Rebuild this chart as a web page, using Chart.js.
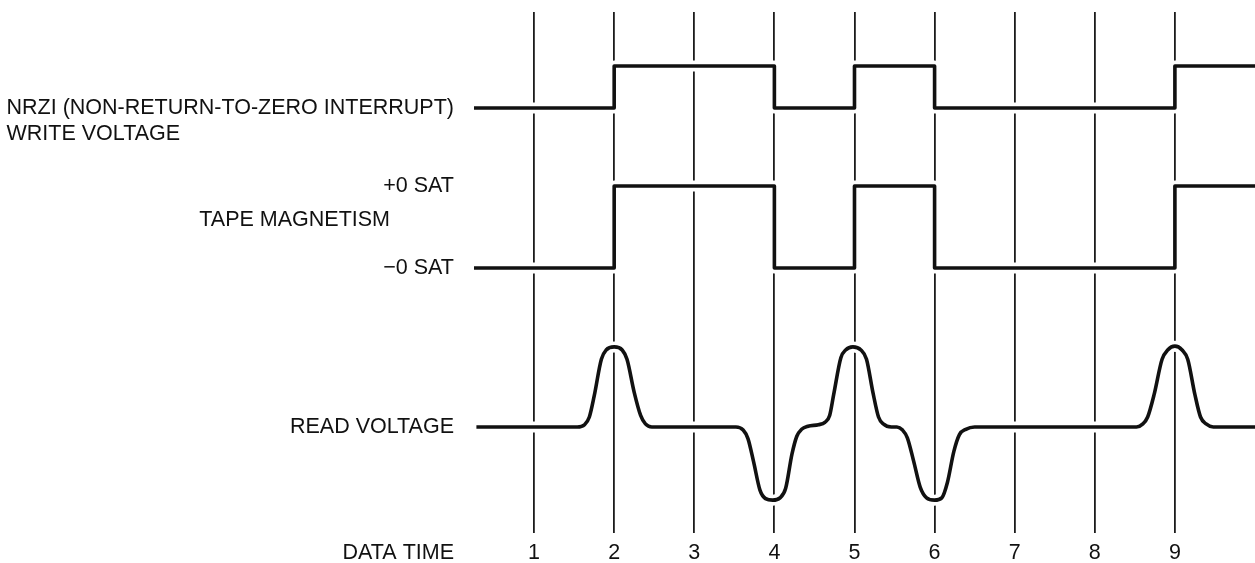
<!DOCTYPE html>
<html>
<head>
<meta charset="utf-8">
<title>NRZI Recording Waveforms</title>
<script src="https://cdn.jsdelivr.net/npm/chart.js@4.4.1/dist/chart.umd.min.js"></script>
<style>
  html, body { margin: 0; padding: 0; background: #fff; }
  #chartBox { width: 1255px; height: 563px; }
</style>
</head>
<body>
<div id="chartBox"><canvas id="nrziChart"></canvas></div>
<script>
// ================= Data =================
const dataTimes   = [1, 2, 3, 4, 5, 6, 7, 8, 9];
const writeLevels = [0, 1, 1, 0, 1, 0, 0, 0, 1];       // NRZI write voltage after each data time
const tapeFlux    = [-1, 1, 1, -1, 1, -1, -1, -1, 1];  // -0 SAT / +0 SAT
const timeRange   = [0.25, 10];

// read head voltage, sampled along the time axis
const readTimes = [
  0.28,
  1.54, 1.63, 1.69, 1.75, 1.84, 1.90, 2.00, 2.10, 2.16, 2.25, 2.33, 2.39, 2.47,
  3.52, 3.61, 3.67, 3.74, 3.82, 3.89, 3.98, 4.07, 4.14, 4.22, 4.28, 4.34, 4.42,
  4.55, 4.63, 4.69, 4.74, 4.83, 4.89, 4.98, 5.08, 5.15, 5.23, 5.30, 5.36, 5.46,
  5.53, 5.60, 5.66, 5.74, 5.82, 5.90, 6.00, 6.09, 6.16, 6.24, 6.31, 6.39, 6.50,
  8.52, 8.60, 8.66, 8.74, 8.84, 8.91, 9.00, 9.09, 9.16, 9.25, 9.32, 9.39, 9.48,
  10.0
];
const readVolts = [
  0,
  0, 0.03, 0.13, 0.40, 0.88, 1.00, 1.04, 1.00, 0.88, 0.45, 0.15, 0.04, 0,
  0, -0.04, -0.15, -0.45, -0.82, -0.93, -0.95, -0.92, -0.80, -0.35, -0.12, -0.03, 0.01,
  0.03, 0.06, 0.15, 0.42, 0.90, 1.00, 1.04, 1.00, 0.88, 0.45, 0.13, 0.04, 0,
  0, -0.04, -0.14, -0.45, -0.78, -0.92, -0.95, -0.92, -0.72, -0.32, -0.10, -0.03, 0,
  0, 0.04, 0.13, 0.42, 0.88, 1.00, 1.05, 1.00, 0.88, 0.42, 0.13, 0.04, 0,
  0
];

// ================= Layout =================
const INK = '#111';
const FONT = '"Liberation Sans", Arial, Helvetica, sans-serif';
const LABEL_SIZE = 21.5;
const AREA_TOP = 12, AREA_BOTTOM = 533, CANVAS_H = 563;
const TEXT_RIGHT = 454;

// pixel row of each trace's zero level, and pixels per unit
const lanes = {
  yWrite: { zero: 108, unit: 42 },
  yTape:  { zero: 227, unit: 41 },
  yRead:  { zero: 427, unit: 77 }
};

function laneScale(lane) {
  return {
    type: 'linear',
    display: false,
    min: -(AREA_BOTTOM - lane.zero) / lane.unit,
    max: (lane.zero - AREA_TOP) / lane.unit
  };
}

function stepPoints(levels) {
  const pts = dataTimes.map((t, i) => ({ x: t, y: levels[i] }));
  pts.unshift({ x: timeRange[0], y: levels[0] });
  pts.push({ x: timeRange[1], y: levels[levels.length - 1] });
  return pts;
}

const readPoints = readTimes.map((t, i) => ({ x: t, y: readVolts[i] }));

// each trace is drawn twice: a wide white halo (breaks the time lines) and the ink line
function trace(axis, points, extra) {
  const base = Object.assign({ yAxisID: axis, data: points, pointRadius: 0, fill: false,
    borderJoinStyle: 'round', borderCapStyle: 'butt' }, extra);
  return [
    Object.assign({}, base, { borderColor: '#fff', borderWidth: 11, order: 2 }),
    Object.assign({}, base, { borderColor: INK, borderWidth: 3.6, order: 1 })
  ];
}

// ---------- left hand captions ----------
const captionPlugin = {
  id: 'captions',
  afterDraw(chart) {
    const { ctx, scales } = chart;
    ctx.save();
    ctx.fillStyle = INK;
    ctx.font = LABEL_SIZE + 'px ' + FONT;
    ctx.textBaseline = 'middle';

    const nrzi = 'NRZI (NON-RETURN-TO-ZERO INTERRUPT)';
    const yW = scales.yWrite.getPixelForValue(0);
    ctx.textAlign = 'right';
    ctx.fillText(nrzi, TEXT_RIGHT, yW);
    ctx.textAlign = 'left';
    ctx.fillText('WRITE VOLTAGE', TEXT_RIGHT - ctx.measureText(nrzi).width, yW + 26);

    ctx.textAlign = 'right';
    ctx.fillText('+0 SAT', TEXT_RIGHT, scales.yTape.getPixelForValue(1));
    ctx.fillText('\u22120 SAT', TEXT_RIGHT, scales.yTape.getPixelForValue(-1));
    ctx.fillText('TAPE MAGNETISM', TEXT_RIGHT - 64, scales.yTape.getPixelForValue(0) - 7);
    ctx.fillText('READ VOLTAGE', TEXT_RIGHT, scales.yRead.getPixelForValue(0));

    const x = scales.x;
    ctx.fillText('DATA TIME', TEXT_RIGHT, x.top + x.options.ticks.padding + LABEL_SIZE / 2);
    ctx.restore();
  }
};

// ================= Chart =================
document.addEventListener("DOMContentLoaded", () => {
  const ctx = document.getElementById('nrziChart').getContext('2d');
  new Chart(ctx, {
    type: 'line',
    data: {
      datasets: [
        ...trace('yWrite', stepPoints(writeLevels), { stepped: 'before' }),
        ...trace('yTape', stepPoints(tapeFlux), { stepped: 'before' }),
        ...trace('yRead', readPoints, { cubicInterpolationMode: 'monotone' })
      ]
    },
    options: {
      responsive: true,
      maintainAspectRatio: false,
      animation: false,
      devicePixelRatio: 1,
      layout: { padding: { left: 474, top: AREA_TOP, right: 0, bottom: 0 } },
      plugins: { legend: { display: false }, tooltip: { enabled: false } },
      scales: {
        x: {
          type: 'linear',
          min: timeRange[0],
          max: timeRange[1],
          afterBuildTicks: s => { s.ticks = dataTimes.map(v => ({ value: v })); },
          afterFit: s => { s.height = CANVAS_H - AREA_BOTTOM; },
          grid: { color: '#1c1c1c', lineWidth: 1.8, drawTicks: false },
          border: { display: false },
          ticks: {
            color: INK,
            padding: 9,
            font: { family: FONT, size: LABEL_SIZE, lineHeight: 1 }
          }
        },
        yWrite: laneScale(lanes.yWrite),
        yTape: laneScale(lanes.yTape),
        yRead: laneScale(lanes.yRead)
      }
    },
    plugins: [captionPlugin]
  });
});
</script>
</body>
</html>
